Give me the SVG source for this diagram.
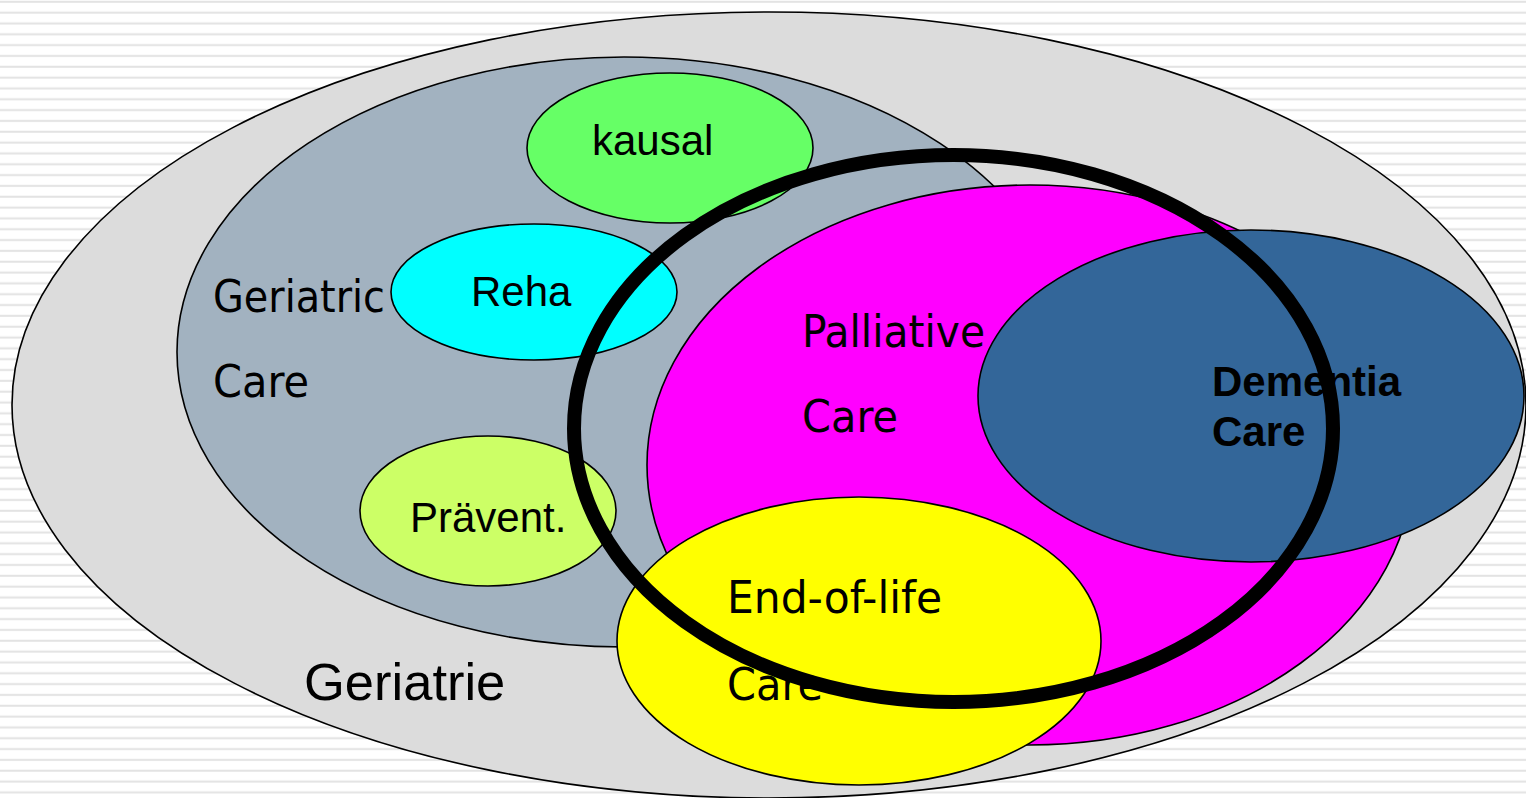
<svg xmlns="http://www.w3.org/2000/svg" width="1526" height="798" viewBox="0 0 1526 798">
<defs>
<pattern id="stripes" patternUnits="userSpaceOnUse" x="0" y="0" width="20" height="10.83">
<rect x="0" y="0" width="20" height="10.83" fill="#ffffff"/>
<rect x="0" y="0.8" width="20" height="2" fill="#e3e3e3"/>
</pattern>
</defs>
<style>
.e{stroke:#000;stroke-width:1.6}
.t{font-family:"DejaVu Sans Condensed","DejaVu Sans",sans-serif;font-size:44px;fill:#000}
.a{font-family:"Liberation Sans",Arial,sans-serif;font-size:42px;fill:#000}
.b{font-family:"Liberation Sans",Arial,sans-serif;font-size:42px;font-weight:bold;fill:#000}
</style>
<rect x="0" y="0" width="1526" height="798" fill="url(#stripes)"/>
<g id="geriatrie">
<ellipse class="e" cx="769" cy="405" rx="757" ry="393" fill="#dcdcdc"/>
<text class="a" x="304" y="700" style="font-size:52.5px">Geriatrie</text>
</g>
<g id="geriatric-care">
<ellipse class="e" cx="624" cy="352" rx="447" ry="295" fill="#a2b2c0"/>
<text class="t" x="213" y="312" textLength="172" lengthAdjust="spacingAndGlyphs">Geriatric</text>
<text class="t" x="213" y="397" textLength="96" lengthAdjust="spacingAndGlyphs">Care</text>
</g>
<g id="kausal">
<ellipse class="e" cx="670" cy="148" rx="143" ry="75" fill="#66ff66"/>
<text class="a" x="592" y="155">kausal</text>
</g>
<g id="reha">
<ellipse class="e" cx="534" cy="292" rx="143" ry="68" fill="#00ffff"/>
<text class="a" x="471" y="306">Reha</text>
</g>
<g id="praevent">
<ellipse class="e" cx="488" cy="511" rx="128" ry="75" fill="#ccff66"/>
<text class="a" x="410" y="532">Prävent.</text>
</g>
<g id="palliative">
<ellipse class="e" cx="1030" cy="465" rx="383" ry="280" fill="#ff00ff"/>
<text class="t" x="802" y="347" textLength="183" lengthAdjust="spacingAndGlyphs">Palliative</text>
<text class="t" x="802" y="432" textLength="96" lengthAdjust="spacingAndGlyphs">Care</text>
</g>
<g id="dementia">
<ellipse class="e" cx="1251" cy="396" rx="273" ry="166" fill="#336699"/>
<text class="b" x="1212" y="396">Dementia</text>
<text class="b" x="1212" y="446">Care</text>
</g>
<g id="end-of-life">
<ellipse class="e" cx="859" cy="641" rx="242" ry="144" fill="#ffff00"/>
<text class="t" x="727" y="613" textLength="215" lengthAdjust="spacingAndGlyphs">End-of-life</text>
<text class="t" x="727" y="700" textLength="96" lengthAdjust="spacingAndGlyphs">Care</text>
</g>
<g id="ring">
<ellipse cx="953.5" cy="428.5" rx="379.5" ry="273.5" fill="none" stroke="#000" stroke-width="14"/>
</g>
<g id="connectors"></g>
</svg>
